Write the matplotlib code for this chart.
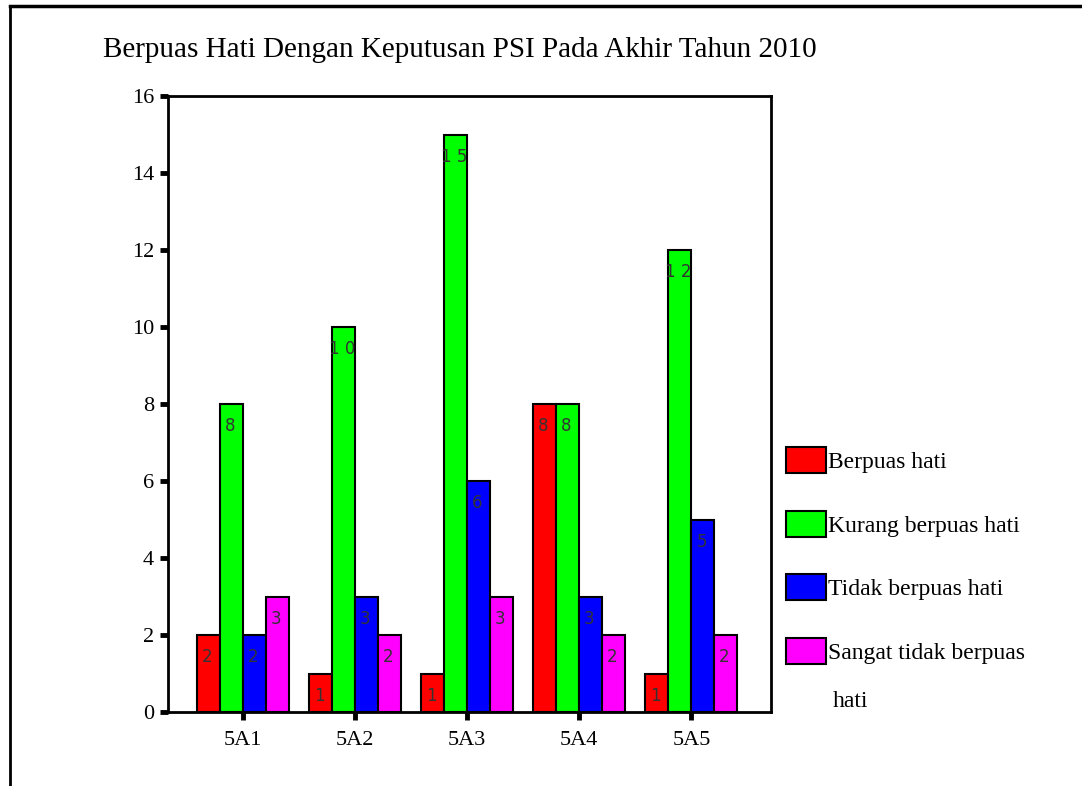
import numpy as np
import matplotlib.pyplot as plt
from matplotlib.patches import Rectangle
from matplotlib.lines import Line2D

# data
kelas = ["5A1", "5A2", "5A3", "5A4", "5A5"]
berpuas = [2, 1, 1, 8, 1]
kurang = [8, 10, 15, 8, 12]
tidak = [2, 3, 6, 3, 5]
sangat_tidak = [3, 2, 3, 2, 2]

seri = [berpuas, kurang, tidak, sangat_tidak]
nama = ["Berpuas hati", "Kurang berpuas hati", "Tidak berpuas hati",
        "Sangat tidak berpuas\nhati"]
warna = ["#ff0000", "#00ff00", "#0000ff", "#ff00ff"]

W, H = 1082, 786
fig = plt.figure(figsize=(W / 100, H / 100), dpi=100)
serif = "Liberation Serif"

# outer frame (top and left only)
fig.add_artist(Line2D([10 / W, 10 / W], [0, 1 - 6 / H], color="black", lw=2,
                      transform=fig.transFigure))
fig.add_artist(Line2D([10 / W, 1], [1 - 6 / H, 1 - 6 / H], color="black", lw=2.5,
                      transform=fig.transFigure))

ax = fig.add_axes([168 / W, 1 - 712 / H, (771 - 168) / W, (712 - 96) / H])

x = np.arange(len(kelas))
w = 0.205
for i, (vals, c) in enumerate(zip(seri, warna)):
    bars = ax.bar(x + (i - 1.5) * w, vals, w, color=c, edgecolor="black",
                  linewidth=1.5, zorder=2)
    for b, v in zip(bars, vals):
        ax.annotate(" ".join(str(v)), (b.get_x() + b.get_width() / 2, v),
                    xytext=(-1, -16), textcoords="offset points",
                    ha="center", va="center", fontsize=12, color="#333333",
                    zorder=3)

ax.set_xlim(-0.67, 4.71)
ax.set_ylim(0, 16)
ax.set_yticks(range(0, 17, 2))
ax.set_xticks(x)
ax.set_xticklabels(kelas)
for s in ax.spines.values():
    s.set_linewidth(2)
ax.tick_params(axis="both", length=6, width=3.5, direction="out",
               labelsize=16, pad=4)
for lab in ax.get_xticklabels() + ax.get_yticklabels():
    lab.set_fontfamily(serif)
ax.tick_params(axis="x", pad=8)

fig.text(103 / W, 1 - 50 / H, "Berpuas Hati Dengan Keputusan PSI Pada Akhir Tahun 2010",
         fontsize=21, fontfamily=serif, va="center", ha="left")

# legend drawn by hand
for i, (n, c) in enumerate(zip(nama, warna)):
    top = 447 + i * 63.5
    fig.add_artist(Rectangle((786 / W, 1 - (top + 26) / H), 40 / W, 26 / H,
                             facecolor=c, edgecolor="black", lw=1.5,
                             transform=fig.transFigure))
    lines = n.split("\n")
    fig.text(828 / W, 1 - (top + 16) / H, lines[0], fontsize=17,
             fontfamily=serif, va="center", ha="left")
    if len(lines) > 1:
        fig.text(833 / W, 1 - (top + 16 + 48) / H, lines[1], fontsize=17,
                 fontfamily=serif, va="center", ha="left")

fig.savefig("out.png", dpi=100, facecolor="white")
